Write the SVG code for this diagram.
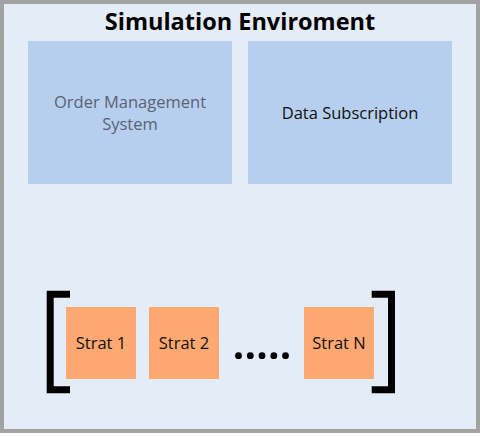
<svg xmlns="http://www.w3.org/2000/svg" width="480" height="437" viewBox="0 0 480 437">
<style>
.t{font-family:"Open Sans","Noto Sans","Liberation Sans",sans-serif;}
.title{font-size:23.5px;font-weight:700;fill:#000;}
.lbl{font-size:16.5px;fill:#111;}
.gray{fill:#5a6274;}
.blue{fill:#b7cfee;}
.orange{fill:#ffa872;}
</style>
<rect x="0" y="0" width="480" height="437" fill="#ffffff"/>
<rect x="0" y="0" width="480" height="433" fill="#a3a3a3"/>
<rect id="env" x="4" y="4" width="472" height="425" fill="#e4ecf7"/>
<text class="t title" x="240" y="30" text-anchor="middle">Simulation Enviroment</text>
<g id="oms">
<rect class="blue" x="28" y="41" width="204" height="143"/>
<text class="t lbl gray" x="130" y="108" text-anchor="middle">Order Management</text>
<text class="t lbl gray" x="130" y="130" text-anchor="middle">System</text>
</g>
<g id="data">
<rect class="blue" x="248" y="41" width="204" height="143"/>
<text class="t lbl" x="350" y="119" text-anchor="middle">Data Subscription</text>
</g>
<g id="strat1">
<rect class="orange" x="66" y="307" width="70" height="72"/>
<text class="t lbl" x="101" y="349" text-anchor="middle">Strat 1</text>
</g>
<g id="strat2">
<rect class="orange" x="149" y="307" width="70" height="72"/>
<text class="t lbl" x="184" y="349" text-anchor="middle">Strat 2</text>
</g>
<g id="stratN">
<rect class="orange" x="304" y="307" width="70" height="72"/>
<text class="t lbl" x="339" y="349" text-anchor="middle">Strat N</text>
</g>
<g id="dots" fill="#000">
<circle cx="238.5" cy="355.7" r="3.4"/>
<circle cx="250.3" cy="355.7" r="3.4"/>
<circle cx="262" cy="355.7" r="3.4"/>
<circle cx="273.8" cy="355.7" r="3.4"/>
<circle cx="285.5" cy="355.7" r="3.4"/>
</g>
<g id="brackets" fill="#000">
<path d="M46.7,290.7 H70 V297.7 H53.7 V386.3 H70 V393.3 H46.7 Z"/>
<path d="M371.7,290.7 H395 V393.3 H371.7 V386.3 H388 V297.7 H371.7 Z"/>
</g>
<g id="connectors"/>
</svg>
